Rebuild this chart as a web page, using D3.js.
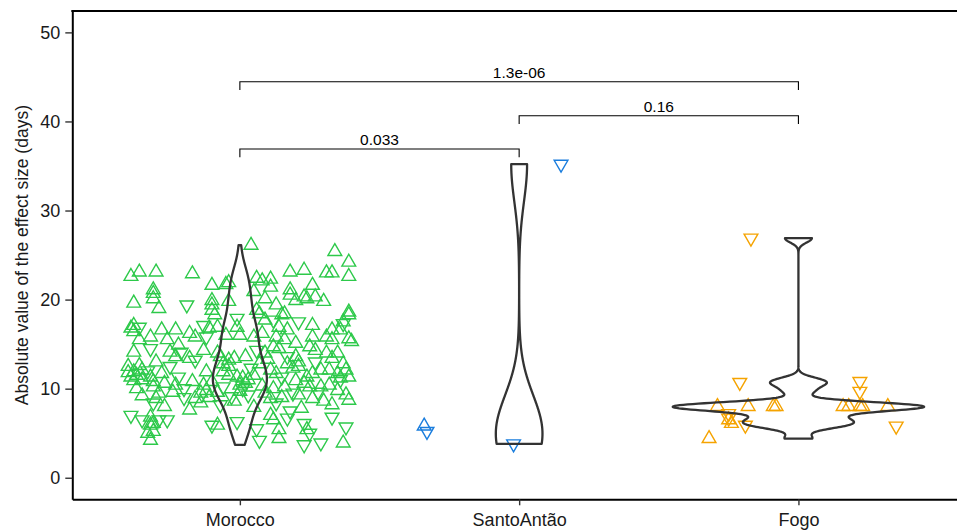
<!DOCTYPE html>
<html>
<head>
<meta charset="utf-8">
<script src="https://cdn.jsdelivr.net/npm/d3@7"></script>
<style>
  body { margin: 0; background: #fff; }
  svg { display: block; font-family: "Liberation Sans", Arial, Helvetica, sans-serif; }
</style>
</head>
<body>
<script>
//categories and axis ticks
var categories = ['Morocco', 'SantoAntão', 'Fogo'];
var yTicks = [0, 10, 20, 30, 40, 50];
var yDomain = [-2.42, 52.4];

//points: [jitter offset (category widths), value (days), direction of effect]
var moroccoPoints = [
  [0.04, 26.1, 'up'], [0.34, 25.4, 'up'], [0.39, 24.2, 'up'], [-0.39, 22.6, 'up'], [-0.36, 23.1, 'up'],
  [-0.30, 23.1, 'up'], [-0.17, 22.9, 'up'], [0.18, 23.1, 'up'], [0.23, 23.3, 'up'], [0.31, 23.0, 'up'],
  [0.33, 23.0, 'up'], [0.39, 22.6, 'up'], [-0.10, 21.6, 'up'], [-0.04, 21.9, 'up'], [-0.05, 21.7, 'up'],
  [0.06, 22.4, 'up'], [0.11, 22.3, 'up'], [0.08, 22.1, 'up'], [0.11, 21.4, 'up'], [0.26, 21.6, 'up'],
  [-0.31, 21.1, 'up'], [-0.31, 20.7, 'up'], [-0.31, 20.1, 'up'], [0.05, 20.9, 'up'], [0.18, 21.1, 'up'],
  [0.18, 20.5, 'up'], [0.23, 20.3, 'up'], [0.24, 20.1, 'up'], [0.27, 20.3, 'up'], [0.30, 19.8, 'up'],
  [0.09, 20.1, 'up'], [0.20, 19.9, 'up'], [-0.10, 19.9, 'up'], [-0.10, 19.4, 'up'], [-0.04, 19.8, 'up'],
  [-0.38, 19.6, 'up'], [-0.29, 19.0, 'up'], [-0.19, 19.4, 'down'], [0.13, 19.4, 'up'], [-0.10, 18.8, 'up'],
  [0.06, 18.8, 'up'], [0.07, 18.4, 'up'], [0.16, 18.4, 'up'], [0.39, 18.6, 'up'], [0.15, 18.3, 'up'],
  [-0.09, 18.3, 'up'], [-0.38, 17.1, 'up'], [-0.39, 16.8, 'up'], [-0.38, 16.4, 'up'], [-0.36, 16.9, 'down'],
  [-0.28, 16.6, 'up'], [-0.23, 16.6, 'up'], [-0.18, 16.2, 'up'], [-0.13, 17.1, 'down'], [-0.08, 16.9, 'up'],
  [-0.11, 16.8, 'up'], [-0.01, 17.9, 'down'], [-0.01, 16.9, 'up'], [0.09, 17.7, 'up'], [0.12, 17.7, 'down'],
  [0.14, 16.9, 'up'], [0.17, 16.6, 'up'], [0.21, 17.5, 'down'], [0.26, 17.1, 'up'], [0.33, 16.6, 'up'],
  [0.37, 17.3, 'down'], [0.39, 18.3, 'up'], [0.37, 17.5, 'up'], [-0.32, 15.8, 'up'], [-0.36, 15.5, 'up'],
  [-0.26, 15.5, 'up'], [-0.22, 14.9, 'up'], [-0.16, 15.8, 'up'], [-0.12, 15.8, 'down'], [-0.05, 16.0, 'up'],
  [0.00, 16.0, 'up'], [0.05, 15.8, 'up'], [0.08, 16.2, 'up'], [0.13, 15.8, 'up'], [0.16, 15.5, 'up'],
  [0.20, 15.1, 'up'], [0.26, 15.8, 'up'], [0.31, 15.8, 'up'], [0.33, 15.5, 'up'], [0.39, 15.6, 'up'],
  [0.40, 15.3, 'up'], [0.36, 16.6, 'up'], [-0.38, 14.1, 'up'], [-0.32, 14.5, 'down'], [-0.25, 14.1, 'up'],
  [-0.23, 13.6, 'up'], [-0.21, 14.1, 'down'], [-0.18, 13.4, 'up'], [-0.16, 13.2, 'down'], [-0.13, 14.3, 'up'],
  [-0.08, 14.0, 'up'], [-0.07, 13.6, 'up'], [-0.04, 13.2, 'up'], [-0.02, 13.4, 'up'], [0.02, 13.6, 'up'],
  [0.06, 14.3, 'down'], [0.09, 14.0, 'up'], [0.12, 14.7, 'up'], [0.14, 14.5, 'up'], [0.17, 13.6, 'down'],
  [0.20, 13.6, 'up'], [0.21, 13.0, 'up'], [0.25, 14.7, 'up'], [0.27, 14.3, 'up'], [0.31, 14.0, 'up'],
  [0.33, 13.4, 'up'], [0.35, 14.0, 'up'], [-0.40, 12.5, 'up'], [-0.38, 11.9, 'up'], [-0.39, 11.3, 'up'],
  [-0.36, 12.6, 'up'], [-0.35, 12.1, 'up'], [-0.37, 11.5, 'up'], [-0.35, 11.0, 'up'], [-0.32, 11.3, 'up'],
  [-0.31, 10.8, 'up'], [-0.28, 11.7, 'up'], [-0.25, 12.5, 'down'], [-0.22, 11.3, 'down'], [-0.17, 10.8, 'up'],
  [-0.12, 11.9, 'up'], [-0.06, 12.8, 'up'], [-0.04, 12.5, 'up'], [-0.06, 11.9, 'up'], [-0.04, 11.5, 'up'],
  [-0.01, 11.3, 'up'], [0.01, 11.2, 'up'], [0.03, 11.0, 'up'], [0.05, 11.5, 'up'], [0.07, 12.8, 'up'],
  [0.11, 12.1, 'up'], [0.13, 11.7, 'up'], [0.15, 11.3, 'down'], [0.17, 12.8, 'up'], [0.19, 12.3, 'up'],
  [0.21, 12.5, 'up'], [0.24, 11.3, 'up'], [0.26, 11.7, 'up'], [0.29, 12.1, 'up'], [0.32, 12.1, 'up'],
  [0.35, 11.7, 'up'], [0.36, 11.2, 'up'], [0.38, 12.1, 'up'], [0.39, 11.3, 'up'], [0.37, 12.8, 'up'],
  [-0.31, 10.2, 'up'], [-0.29, 9.5, 'up'], [-0.30, 8.9, 'up'], [-0.31, 8.4, 'down'], [-0.23, 10.4, 'up'],
  [-0.14, 9.5, 'up'], [-0.16, 8.9, 'up'], [-0.14, 8.4, 'up'], [-0.12, 9.8, 'up'], [-0.06, 10.2, 'down'],
  [-0.03, 9.1, 'down'], [0.02, 10.6, 'up'], [0.00, 10.4, 'up'], [0.09, 9.5, 'up'], [0.11, 8.9, 'up'],
  [0.13, 8.4, 'down'], [0.16, 10.2, 'up'], [0.19, 9.5, 'down'], [0.23, 10.6, 'up'], [0.25, 10.2, 'up'],
  [0.29, 10.2, 'up'], [0.32, 10.4, 'up'], [0.35, 9.8, 'up'], [0.38, 9.3, 'up'], [0.36, 11.0, 'down'],
  [0.39, 8.7, 'up'], [0.21, 9.3, 'up'], [-0.39, 7.0, 'down'], [-0.35, 6.5, 'down'], [-0.32, 6.8, 'up'],
  [-0.31, 6.1, 'up'], [-0.29, 6.5, 'down'], [-0.26, 6.5, 'down'], [-0.33, 5.0, 'up'], [-0.32, 4.2, 'up'],
  [-0.10, 5.9, 'down'], [-0.08, 5.9, 'up'], [-0.01, 6.3, 'down'], [0.06, 5.5, 'down'], [0.11, 7.0, 'up'],
  [0.14, 5.4, 'up'], [0.12, 6.5, 'up'], [0.17, 6.7, 'down'], [0.24, 5.4, 'up'], [0.23, 6.1, 'down'],
  [0.23, 3.7, 'down'], [0.29, 3.9, 'down'], [0.33, 6.8, 'down'], [0.38, 5.7, 'down'], [0.37, 3.9, 'up'],
  [0.07, 4.2, 'down'], [0.14, 4.4, 'up'], [0.25, 5.0, 'down'], [-0.32, 5.9, 'up'], [-0.31, 5.2, 'up'],
  [-0.40, 11.8, 'up'], [-0.38, 10.9, 'up'], [-0.33, 12.0, 'down'], [-0.30, 13.0, 'up'], [-0.27, 10.6, 'up'],
  [-0.20, 10.0, 'down'], [-0.10, 10.8, 'up'], [0.00, 9.7, 'up'], [0.04, 12.3, 'down'], [0.10, 13.3, 'up'],
  [0.27, 13.0, 'down'], [0.30, 8.6, 'up'], [0.22, 7.8, 'up'], [-0.11, 9.0, 'up'], [-0.07, 8.2, 'down'],
  [-0.35, 9.2, 'up'], [-0.27, 8.0, 'up'], [-0.20, 9.0, 'down'], [-0.18, 7.6, 'up'], [-0.08, 9.6, 'up'],
  [-0.02, 8.6, 'up'], [0.03, 9.3, 'down'], [0.05, 7.9, 'up'], [0.08, 10.3, 'up'], [0.15, 9.0, 'up'],
  [0.18, 7.5, 'down'], [0.26, 8.9, 'up'], [0.28, 9.6, 'down'], [0.33, 8.2, 'up'], [-0.37, 10.0, 'up'],
  [-0.24, 9.6, 'up'], [-0.13, 10.4, 'up'], [0.01, 10.0, 'down'], [0.12, 10.0, 'up'], [0.20, 10.9, 'up']
];
var santoAntaoPoints = [
  [-0.34, 5.8, 'up'], [-0.33, 5.2, 'down'], [-0.02, 3.8, 'down'], [0.15, 35.2, 'down']
];
var fogoPoints = [
  [-0.17, 26.9, 'down'], [-0.21, 10.7, 'down'], [0.22, 10.8, 'down'], [0.22, 9.7, 'down'],
  [-0.29, 8.0, 'up'], [-0.18, 8.0, 'up'], [-0.09, 8.0, 'up'], [-0.08, 8.0, 'up'], [0.16, 8.0, 'up'],
  [0.18, 8.0, 'up'], [0.22, 8.0, 'up'], [0.23, 8.0, 'up'], [0.32, 8.0, 'up'], [-0.25, 7.2, 'down'],
  [-0.25, 6.7, 'down'], [-0.25, 6.5, 'up'], [-0.24, 6.1, 'up'], [-0.19, 5.9, 'down'], [0.35, 5.8, 'down'],
  [-0.32, 4.4, 'up']
];
var groupColors = ['#2dc94a', '#1a7ddd', '#f5a300'];

//pairwise comparisons (p values) and bracket heights
var comparisons = [
  {from: 'Morocco', to: 'SantoAntão', label: '0.033', y: 36.9},
  {from: 'SantoAntão', to: 'Fogo', label: '0.16', y: 40.64},
  {from: 'Morocco', to: 'Fogo', label: '1.3e-06', y: 44.46}
];
var tipLength = 0.93;

var groups = [moroccoPoints, santoAntaoPoints, fogoPoints].map(function(pts, i) {
  return {name: categories[i], color: groupColors[i], points: pts};
});

//setup graph size
var width = 957, height = 532;
var plot = {left: 72.3, right: 966, top: 11, bottom: 499.3};

var xScale = d3.scalePoint().domain(categories).range([plot.left, plot.right]).padding(0.6);
var yScale = d3.scaleLinear().domain(yDomain).range([plot.bottom, plot.top]);

var svg = d3.select('body').append('svg')
  .attr('width', width)
  .attr('height', height)
  .style('overflow', 'hidden');

//kernel density like R's density() with bw.nrd0
function bwNrd0(vals) {
  var s = vals.slice().sort(d3.ascending);
  var hi = d3.deviation(s);
  var iqr = d3.quantileSorted(s, 0.75) - d3.quantileSorted(s, 0.25);
  var lo = Math.min(hi, iqr / 1.34);
  if (!lo) lo = hi || Math.abs(s[0]) || 1;
  return 0.9 * lo * Math.pow(s.length, -0.2);
}
function kde(vals) {
  var bw = bwNrd0(vals), n = vals.length;
  var lo = d3.min(vals), hi = d3.max(vals), m = 512;
  return d3.range(m).map(function(i) {
    var v = lo + (hi - lo) * i / (m - 1);
    var s = d3.sum(vals, function(x) { var z = (v - x) / bw; return Math.exp(-0.5 * z * z); });
    return {v: v, d: s / (n * bw * Math.sqrt(2 * Math.PI))};
  });
}

groups.forEach(function(g) { g.density = kde(g.points.map(function(p) { return p[1]; })); });
var maxDensity = d3.max(groups, function(g) { return d3.max(g.density, function(d) { return d.d; }); });
var halfWidth = 0.45 * xScale.step();

//axes
var yAxis = d3.axisLeft(yScale).tickValues(yTicks).tickSize(7).tickSizeOuter(0).tickPadding(5);
var xAxis = d3.axisBottom(xScale).tickSize(6).tickSizeOuter(0).tickPadding(8);

var gy = svg.append('g').attr('transform', 'translate(' + plot.left + ',0)').call(yAxis);
var gx = svg.append('g').attr('transform', 'translate(0,' + plot.bottom + ')').call(xAxis);
[gx, gy].forEach(function(g) {
  g.select('.domain').attr('stroke', '#000').attr('stroke-width', 2);
  g.selectAll('.tick line').attr('stroke', '#333').attr('stroke-width', 1.4);
  g.selectAll('.tick text').attr('fill', '#1a1a1a').style('font-size', '18px')
    .style('font-family', '"Liberation Sans", Arial, Helvetica, sans-serif');
});
svg.append('line')
  .attr('x1', plot.left - 1).attr('x2', width)
  .attr('y1', plot.top).attr('y2', plot.top)
  .attr('stroke', '#000').attr('stroke-width', 2);

svg.append('text')
  .attr('transform', 'translate(28,' + ((plot.top + plot.bottom) / 2) + ') rotate(-90)')
  .attr('text-anchor', 'middle')
  .style('font-size', '17.5px')
  .attr('fill', '#1a1a1a')
  .text('Absolute value of the effect size (days)');

//points
var tri = d3.symbol(d3.symbolTriangle, 82);
groups.forEach(function(g) {
  var cx = xScale(g.name);
  svg.append('g').selectAll('path')
    .data(g.points)
    .enter().append('path')
    .attr('d', tri)
    .attr('transform', function(p) {
      return 'translate(' + (cx + p[0] * xScale.step()) + ',' + yScale(p[1]) + ')' + (p[2] === 'down' ? ' rotate(180)' : '');
    })
    .attr('fill', 'none')
    .attr('stroke', g.color)
    .attr('stroke-width', 1.4);
});

//violins
groups.forEach(function(g) {
  var cx = xScale(g.name);
  var area = d3.area()
    .y(function(d) { return yScale(d.v); })
    .x0(function(d) { return cx - d.d / maxDensity * halfWidth; })
    .x1(function(d) { return cx + d.d / maxDensity * halfWidth; });
  svg.append('path')
    .datum(g.density)
    .attr('d', area)
    .attr('fill', 'none')
    .attr('stroke', '#333')
    .attr('stroke-width', 2.3)
    .attr('stroke-linejoin', 'round');
});

//comparison brackets
var br = svg.append('g');
comparisons.forEach(function(c) {
  var x1 = xScale(c.from), x2 = xScale(c.to), yy = yScale(c.y), yt = yScale(c.y - tipLength);
  br.append('path')
    .attr('d', 'M' + x1 + ',' + yt + 'V' + yy + 'H' + x2 + 'V' + yt)
    .attr('fill', 'none')
    .attr('stroke', '#000')
    .attr('stroke-width', 1.1);
  br.append('text')
    .attr('x', (x1 + x2) / 2)
    .attr('y', yy - 4)
    .attr('text-anchor', 'middle')
    .style('font-size', '15.5px')
    .attr('fill', '#000')
    .text(c.label);
});
</script>
</body>
</html>
